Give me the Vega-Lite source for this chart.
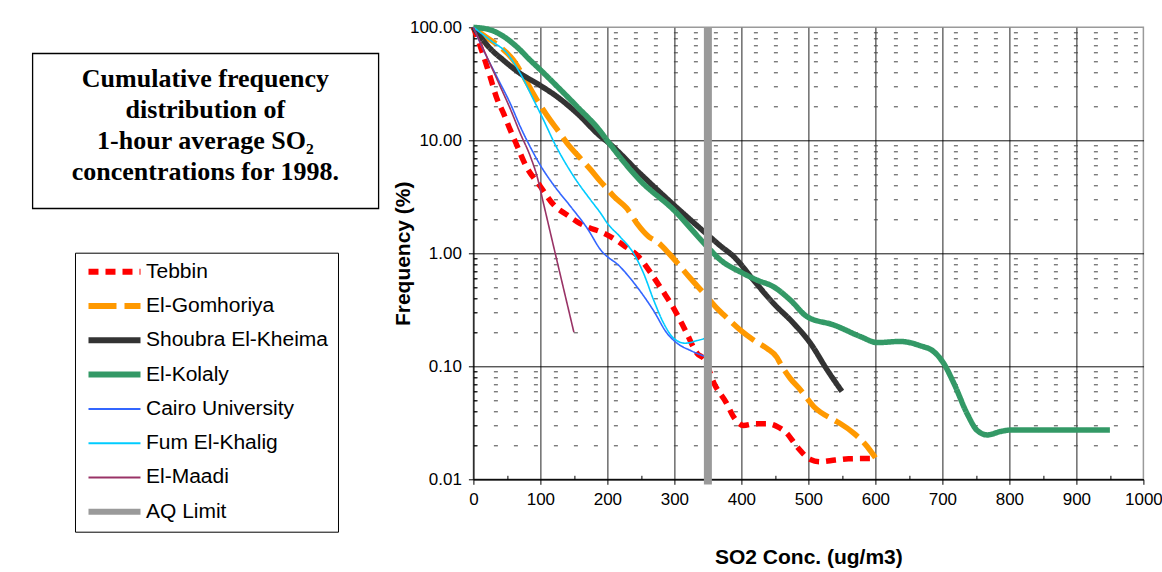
{
  "$schema": "https://vega.github.io/schema/vega-lite/v6.json",
  "background": "white",
  "padding": {"left": 31.4, "top": 15.3, "right": 0, "bottom": 0},
  "spacing": 12,
  "config": {
    "font": "Liberation Sans",
    "axis": {
      "labelFont": "Liberation Sans", "labelFontSize": 17, "labelColor": "black",
      "titleFont": "Liberation Sans", "titleFontSize": 21, "titleFontWeight": "bold", "titleColor": "black",
      "domainColor": "black", "tickColor": "black", "domainWidth": 1.2
    }
  },
  "datasets": {
    "curves": [
      {"s": "Tebbin", "x": 0, "y": 100}, {"s": "Tebbin", "x": 13, "y": 61}, {"s": "Tebbin", "x": 25, "y": 36.5}, {"s": "Tebbin", "x": 35, "y": 23.5}, {"s": "Tebbin", "x": 45, "y": 17.3}, {"s": "Tebbin", "x": 53, "y": 13.2}, {"s": "Tebbin", "x": 65, "y": 9.0}, {"s": "Tebbin", "x": 78, "y": 6.0}, {"s": "Tebbin", "x": 100, "y": 3.9}, {"s": "Tebbin", "x": 120, "y": 2.68}, {"s": "Tebbin", "x": 140, "y": 2.18}, {"s": "Tebbin", "x": 155, "y": 1.9}, {"s": "Tebbin", "x": 172, "y": 1.69}, {"s": "Tebbin", "x": 190, "y": 1.55}, {"s": "Tebbin", "x": 205, "y": 1.4}, {"s": "Tebbin", "x": 224, "y": 1.18}, {"s": "Tebbin", "x": 249, "y": 0.9}, {"s": "Tebbin", "x": 267, "y": 0.64}, {"s": "Tebbin", "x": 282, "y": 0.47}, {"s": "Tebbin", "x": 299, "y": 0.326}, {"s": "Tebbin", "x": 316, "y": 0.21}, {"s": "Tebbin", "x": 334, "y": 0.13}, {"s": "Tebbin", "x": 345, "y": 0.115}, {"s": "Tebbin", "x": 359, "y": 0.071}, {"s": "Tebbin", "x": 378, "y": 0.047}, {"s": "Tebbin", "x": 388, "y": 0.036}, {"s": "Tebbin", "x": 403, "y": 0.030}, {"s": "Tebbin", "x": 420, "y": 0.031}, {"s": "Tebbin", "x": 440, "y": 0.031}, {"s": "Tebbin", "x": 455, "y": 0.029}, {"s": "Tebbin", "x": 468, "y": 0.0255}, {"s": "Tebbin", "x": 483, "y": 0.0194}, {"s": "Tebbin", "x": 503, "y": 0.015}, {"s": "Tebbin", "x": 518, "y": 0.0143}, {"s": "Tebbin", "x": 540, "y": 0.0148}, {"s": "Tebbin", "x": 560, "y": 0.0152}, {"s": "Tebbin", "x": 600, "y": 0.0153},
      {"s": "El-Gomhoriya", "x": 0, "y": 100}, {"s": "El-Gomhoriya", "x": 15, "y": 85}, {"s": "El-Gomhoriya", "x": 40, "y": 67}, {"s": "El-Gomhoriya", "x": 60, "y": 51}, {"s": "El-Gomhoriya", "x": 75, "y": 36.5}, {"s": "El-Gomhoriya", "x": 95, "y": 22.7}, {"s": "El-Gomhoriya", "x": 115, "y": 15}, {"s": "El-Gomhoriya", "x": 125, "y": 12.5}, {"s": "El-Gomhoriya", "x": 140, "y": 9.4}, {"s": "El-Gomhoriya", "x": 160, "y": 6.9}, {"s": "El-Gomhoriya", "x": 175, "y": 5.5}, {"s": "El-Gomhoriya", "x": 190, "y": 4.3}, {"s": "El-Gomhoriya", "x": 200, "y": 3.7}, {"s": "El-Gomhoriya", "x": 210, "y": 3.17}, {"s": "El-Gomhoriya", "x": 229, "y": 2.5}, {"s": "El-Gomhoriya", "x": 244, "y": 1.84}, {"s": "El-Gomhoriya", "x": 262, "y": 1.4}, {"s": "El-Gomhoriya", "x": 274, "y": 1.27}, {"s": "El-Gomhoriya", "x": 294, "y": 0.966}, {"s": "El-Gomhoriya", "x": 324, "y": 0.6}, {"s": "El-Gomhoriya", "x": 344, "y": 0.443}, {"s": "El-Gomhoriya", "x": 366, "y": 0.315}, {"s": "El-Gomhoriya", "x": 374, "y": 0.284}, {"s": "El-Gomhoriya", "x": 398, "y": 0.21}, {"s": "El-Gomhoriya", "x": 418, "y": 0.171}, {"s": "El-Gomhoriya", "x": 438, "y": 0.144}, {"s": "El-Gomhoriya", "x": 453, "y": 0.12}, {"s": "El-Gomhoriya", "x": 458, "y": 0.106}, {"s": "El-Gomhoriya", "x": 473, "y": 0.078}, {"s": "El-Gomhoriya", "x": 488, "y": 0.062}, {"s": "El-Gomhoriya", "x": 508, "y": 0.044}, {"s": "El-Gomhoriya", "x": 538, "y": 0.0335}, {"s": "El-Gomhoriya", "x": 548, "y": 0.031}, {"s": "El-Gomhoriya", "x": 568, "y": 0.0255}, {"s": "El-Gomhoriya", "x": 588, "y": 0.0194}, {"s": "El-Gomhoriya", "x": 600, "y": 0.0155},
      {"s": "Shoubra El-Kheima", "x": 0, "y": 100}, {"s": "Shoubra El-Kheima", "x": 25, "y": 65}, {"s": "Shoubra El-Kheima", "x": 45, "y": 51}, {"s": "Shoubra El-Kheima", "x": 70, "y": 39}, {"s": "Shoubra El-Kheima", "x": 100, "y": 30.5}, {"s": "Shoubra El-Kheima", "x": 125, "y": 24.3}, {"s": "Shoubra El-Kheima", "x": 155, "y": 17.3}, {"s": "Shoubra El-Kheima", "x": 190, "y": 10.8}, {"s": "Shoubra El-Kheima", "x": 200, "y": 9.7}, {"s": "Shoubra El-Kheima", "x": 250, "y": 5.0}, {"s": "Shoubra El-Kheima", "x": 300, "y": 2.65}, {"s": "Shoubra El-Kheima", "x": 350, "y": 1.45}, {"s": "Shoubra El-Kheima", "x": 369, "y": 1.16}, {"s": "Shoubra El-Kheima", "x": 389, "y": 0.93}, {"s": "Shoubra El-Kheima", "x": 418, "y": 0.58}, {"s": "Shoubra El-Kheima", "x": 448, "y": 0.36}, {"s": "Shoubra El-Kheima", "x": 478, "y": 0.24}, {"s": "Shoubra El-Kheima", "x": 503, "y": 0.16}, {"s": "Shoubra El-Kheima", "x": 528, "y": 0.093}, {"s": "Shoubra El-Kheima", "x": 550, "y": 0.06},
      {"s": "El-Kolaly", "x": 0, "y": 100}, {"s": "El-Kolaly", "x": 25, "y": 95}, {"s": "El-Kolaly", "x": 45, "y": 83}, {"s": "El-Kolaly", "x": 65, "y": 67}, {"s": "El-Kolaly", "x": 85, "y": 51}, {"s": "El-Kolaly", "x": 100, "y": 42}, {"s": "El-Kolaly", "x": 125, "y": 30}, {"s": "El-Kolaly", "x": 155, "y": 19.8}, {"s": "El-Kolaly", "x": 190, "y": 11.9}, {"s": "El-Kolaly", "x": 200, "y": 9.9}, {"s": "El-Kolaly", "x": 249, "y": 4.4}, {"s": "El-Kolaly", "x": 299, "y": 2.42}, {"s": "El-Kolaly", "x": 349, "y": 1.145}, {"s": "El-Kolaly", "x": 369, "y": 0.87}, {"s": "El-Kolaly", "x": 398, "y": 0.687}, {"s": "El-Kolaly", "x": 423, "y": 0.58}, {"s": "El-Kolaly", "x": 448, "y": 0.506}, {"s": "El-Kolaly", "x": 473, "y": 0.386}, {"s": "El-Kolaly", "x": 498, "y": 0.275}, {"s": "El-Kolaly", "x": 538, "y": 0.232}, {"s": "El-Kolaly", "x": 578, "y": 0.183}, {"s": "El-Kolaly", "x": 603, "y": 0.162}, {"s": "El-Kolaly", "x": 637, "y": 0.166}, {"s": "El-Kolaly", "x": 667, "y": 0.152}, {"s": "El-Kolaly", "x": 687, "y": 0.135}, {"s": "El-Kolaly", "x": 702, "y": 0.106}, {"s": "El-Kolaly", "x": 717, "y": 0.071}, {"s": "El-Kolaly", "x": 737, "y": 0.038}, {"s": "El-Kolaly", "x": 752, "y": 0.027}, {"s": "El-Kolaly", "x": 767, "y": 0.0247}, {"s": "El-Kolaly", "x": 787, "y": 0.0265}, {"s": "El-Kolaly", "x": 802, "y": 0.0273}, {"s": "El-Kolaly", "x": 950, "y": 0.0273},
      {"s": "Cairo University", "x": 0, "y": 100}, {"s": "Cairo University", "x": 15, "y": 63}, {"s": "Cairo University", "x": 35, "y": 36.5}, {"s": "Cairo University", "x": 55, "y": 21.2}, {"s": "Cairo University", "x": 70, "y": 13.2}, {"s": "Cairo University", "x": 85, "y": 8.7}, {"s": "Cairo University", "x": 100, "y": 6.0}, {"s": "Cairo University", "x": 120, "y": 4.0}, {"s": "Cairo University", "x": 145, "y": 2.6}, {"s": "Cairo University", "x": 170, "y": 1.66}, {"s": "Cairo University", "x": 190, "y": 1.07}, {"s": "Cairo University", "x": 219, "y": 0.76}, {"s": "Cairo University", "x": 244, "y": 0.506}, {"s": "Cairo University", "x": 269, "y": 0.31}, {"s": "Cairo University", "x": 289, "y": 0.196}, {"s": "Cairo University", "x": 304, "y": 0.16}, {"s": "Cairo University", "x": 324, "y": 0.138}, {"s": "Cairo University", "x": 346, "y": 0.122},
      {"s": "Fum El-Khalig", "x": 0, "y": 100}, {"s": "Fum El-Khalig", "x": 25, "y": 77}, {"s": "Fum El-Khalig", "x": 50, "y": 59}, {"s": "Fum El-Khalig", "x": 70, "y": 39}, {"s": "Fum El-Khalig", "x": 90, "y": 22.7}, {"s": "Fum El-Khalig", "x": 105, "y": 15}, {"s": "Fum El-Khalig", "x": 120, "y": 9.7}, {"s": "Fum El-Khalig", "x": 150, "y": 4.76}, {"s": "Fum El-Khalig", "x": 175, "y": 2.96}, {"s": "Fum El-Khalig", "x": 190, "y": 2.26}, {"s": "Fum El-Khalig", "x": 200, "y": 1.84}, {"s": "Fum El-Khalig", "x": 219, "y": 1.4}, {"s": "Fum El-Khalig", "x": 239, "y": 1.0}, {"s": "Fum El-Khalig", "x": 254, "y": 0.665}, {"s": "Fum El-Khalig", "x": 269, "y": 0.386}, {"s": "Fum El-Khalig", "x": 284, "y": 0.24}, {"s": "Fum El-Khalig", "x": 299, "y": 0.177}, {"s": "Fum El-Khalig", "x": 316, "y": 0.16}, {"s": "Fum El-Khalig", "x": 334, "y": 0.169}, {"s": "Fum El-Khalig", "x": 346, "y": 0.177},
      {"s": "El-Maadi", "x": 0, "y": 100}, {"s": "El-Maadi", "x": 20, "y": 55}, {"s": "El-Maadi", "x": 40, "y": 30}, {"s": "El-Maadi", "x": 55, "y": 19}, {"s": "El-Maadi", "x": 70, "y": 11.5}, {"s": "El-Maadi", "x": 85, "y": 7.2}, {"s": "El-Maadi", "x": 95, "y": 4.8}, {"s": "El-Maadi", "x": 105, "y": 2.7}, {"s": "El-Maadi", "x": 120, "y": 1.13}, {"s": "El-Maadi", "x": 135, "y": 0.475}, {"s": "El-Maadi", "x": 150, "y": 0.2}
    ]
  },
  "hconcat": [
    {
      "spacing": 24,
      "vconcat": [
        {
          "width": 346, "height": 1,
          "view": {"stroke": null, "fill": "white"},
          "data": {"values": []},
          "mark": {"type": "text"},
          "encoding": {}
        },
        {
          "width": 346, "height": 155,
          "view": {"stroke": "black", "strokeWidth": 1.3},
          "data": {"values": [
            {"line": 1, "t": "Cumulative frequency"},
            {"line": 2, "t": "distribution of"},
            {"line": 3, "t": "1-hour average SO₂"},
            {"line": 4, "t": "concentrations for 1998."}
          ]},
          "mark": {"type": "text", "font": "Liberation Serif", "fontWeight": "bold", "fontSize": 26, "align": "center", "baseline": "alphabetic", "dy": 3, "color": "black"},
          "encoding": {
            "y": {"field": "line", "type": "ordinal", "axis": null, "scale": {"type": "point", "padding": 1.06}},
            "text": {"field": "t", "type": "nominal"}
          }
        }
      ]
    },
    {
      "width": 670, "height": 452,
      "view": {"stroke": "#9a9a9a", "strokeWidth": 1.5},
      "encoding": {
        "x": {
          "field": "x", "type": "quantitative",
          "scale": {"domain": [0, 1000], "nice": false},
          "title": "SO2 Conc. (ug/m3)",
          "axis": {
            "values": [0, 50, 100, 150, 200, 250, 300, 350, 400, 450, 500, 550, 600, 650, 700, 750, 800, 850, 900, 950, 1000],
            "format": "d",
            "labelExpr": "datum.value % 100 === 0 ? datum.label : ''",
            "labelOverlap": false, "labelFlush": false,
            "grid": true, "gridColor": "#222", "gridWidth": 1,
            "gridOpacity": {"condition": {"test": "datum.value % 100 === 0 && datum.value > 0 && datum.value < 1000", "value": 1}, "value": 0},
            "tickSize": {"condition": {"test": "datum.value % 100 === 0", "value": 5}, "value": -4},
            "labelPadding": 7, "titlePadding": 39
          }
        },
        "y": {
          "field": "y", "type": "quantitative",
          "scale": {"type": "log", "domain": [0.01, 100], "nice": false},
          "title": "Frequency (%)",
          "axis": {
            "values": [0.01, 0.02, 0.03, 0.04, 0.05, 0.06, 0.07, 0.08, 0.09, 0.1, 0.2, 0.3, 0.4, 0.5, 0.6, 0.7, 0.8, 0.9, 1, 2, 3, 4, 5, 6, 7, 8, 9, 10, 20, 30, 40, 50, 60, 70, 80, 90, 100],
            "labelExpr": "abs(log(datum.value)/LN10 - round(log(datum.value)/LN10)) < 0.000001 ? format(datum.value, '.2f') : ''",
            "labelOverlap": false, "labelFlush": false,
            "grid": true, "gridWidth": 1,
            "gridDash": {"condition": {"test": "abs(log(datum.value)/LN10 - round(log(datum.value)/LN10)) < 0.000001", "value": [1, 0]}, "value": [4, 16]},
            "gridColor": {"condition": {"test": "abs(log(datum.value)/LN10 - round(log(datum.value)/LN10)) < 0.000001", "value": "#000000"}, "value": "#444444"},
            "gridOpacity": {"condition": {"test": "datum.value > 99", "value": 0}, "value": 1},
            "tickSize": {"condition": {"test": "abs(log(datum.value)/LN10 - round(log(datum.value)/LN10)) < 0.000001", "value": 5}, "value": -3},
            "labelPadding": 7, "titlePadding": -4
          }
        }
      },
      "layer": [
        {
          "data": {"name": "curves"},
          "transform": [{"filter": {"field": "s", "oneOf": ["Tebbin", "El-Gomhoriya", "Shoubra El-Kheima", "El-Kolaly"]}}],
          "mark": {"type": "line", "strokeWidth": 5.5, "interpolate": "monotone"},
          "encoding": {
            "color": {
              "field": "s", "type": "nominal",
              "scale": {
                "domain": ["Tebbin", "El-Gomhoriya", "Shoubra El-Kheima", "El-Kolaly", "Cairo University", "Fum El-Khalig", "El-Maadi", "AQ Limit"],
                "range": ["#FF0000", "#FF9900", "#333333", "#339966", "#3366FF", "#00CCFF", "#993366", "#9a9a9a"]
              },
              "legend": {
                "orient": "none", "legendX": 42.6, "legendY": 225.4, "title": null, "direction": "vertical",
                "symbolType": "stroke", "symbolSize": 2704, "clipHeight": 20, "rowPadding": 13.3,
                "padding": 9, "symbolOffset": 20, "labelOffset": 21,
                "labelFontSize": 21, "labelFont": "Liberation Sans", "labelColor": "black", "labelLimit": 400,
                "strokeColor": "black", "fillColor": "white",
                "encode": {"symbols": {"update": {"strokeWidth": {"signal": "datum.value === 'Cairo University' || datum.value === 'Fum El-Khalig' || datum.value === 'El-Maadi' ? 2 : 6"}}}}
              }
            },
            "strokeDash": {
              "field": "s", "type": "nominal",
              "scale": {
                "domain": ["Tebbin", "El-Gomhoriya", "Shoubra El-Kheima", "El-Kolaly", "Cairo University", "Fum El-Khalig", "El-Maadi", "AQ Limit"],
                "range": [[10, 7], [28, 8], [1, 0], [1, 0], [1, 0], [1, 0], [1, 0], [1, 0]]
              }
            }
          }
        },
        {
          "data": {"name": "curves"},
          "transform": [{"filter": {"field": "s", "oneOf": ["Cairo University", "Fum El-Khalig", "El-Maadi"]}}],
          "mark": {"type": "line", "strokeWidth": 1.6, "interpolate": "monotone"},
          "encoding": {
            "color": {"field": "s", "type": "nominal"},
            "strokeDash": {"field": "s", "type": "nominal"}
          }
        },
        {
          "data": {"values": [{"s": "AQ Limit", "x": 350, "y": 100, "y2": 0.009}]},
          "mark": {"type": "rule", "strokeWidth": 8},
          "encoding": {
            "y2": {"field": "y2"},
            "color": {"field": "s", "type": "nominal"}
          }
        }
      ]
    }
  ]
}
